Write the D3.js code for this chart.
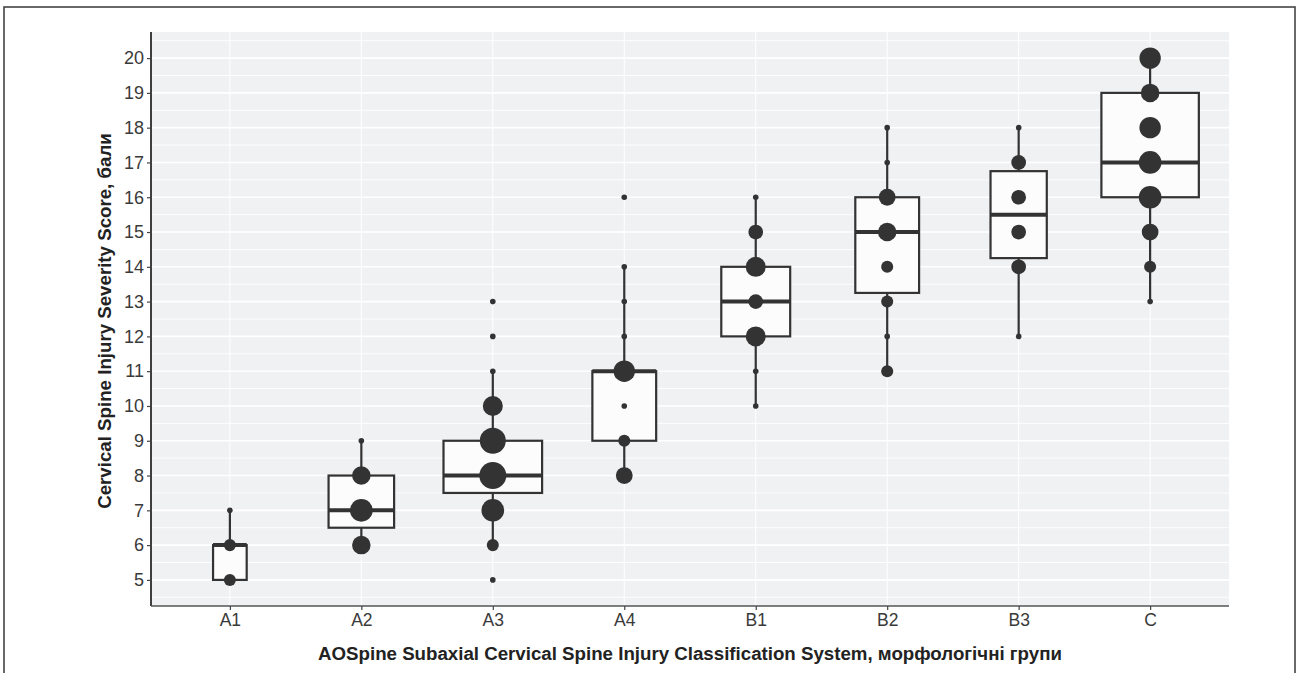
<!DOCTYPE html>
<html>
<head>
<meta charset="utf-8">
<script src="https://cdn.jsdelivr.net/npm/d3@7"></script>
<style>
  body { margin: 0; background: #fff; }
  svg { display: block; font-family: "Liberation Sans", Arial, sans-serif; }
</style>
</head>
<body>
<div id="chart"></div>
<script>
// Size of the picture
var w = 1298;
var h = 673;

// Groups on the x axis
var categories = ["A1", "A2", "A3", "A4", "B1", "B2", "B3", "C"];

// Score / number of patients pairs for every group
var countsA1 = [[5, 2], [6, 2], [7, 1]];
var countsA2 = [[6, 5], [7, 8], [8, 5], [9, 1]];
var countsA3 = [[5, 1], [6, 2], [7, 8], [8, 12], [9, 11], [10, 6], [11, 1], [12, 1], [13, 1]];
var countsA4 = [[8, 4], [9, 2], [10, 1], [11, 7], [12, 1], [13, 1], [14, 1], [16, 1]];
var countsB1 = [[10, 1], [11, 1], [12, 6], [13, 3], [14, 6], [15, 3], [16, 1]];
var countsB2 = [[11, 2], [12, 1], [13, 2], [14, 2], [15, 5], [16, 4], [17, 1], [18, 1]];
var countsB3 = [[12, 1], [14, 3], [15, 3], [16, 3], [17, 3], [18, 1]];
var countsC  = [[13, 1], [14, 2], [15, 4], [16, 8], [17, 8], [18, 7], [19, 5], [20, 7]];

// Y tick labels
var yTicks = [5, 6, 7, 8, 9, 10, 11, 12, 13, 14, 15, 16, 17, 18, 19, 20];

var groupCounts = [countsA1, countsA2, countsA3, countsA4, countsB1, countsB2, countsB3, countsC];

// Panel box
var pLeft = 151, pTop = 32, pRight = 1229, pBottom = 606;
var ink = "#333333";

var svg = d3.select("#chart")
    .append("svg")
    .attr("width", w)
    .attr("height", h);

// outer frame of the figure
svg.append("rect")
    .attr("x", 4).attr("y", 7)
    .attr("width", 1291).attr("height", 680)
    .attr("fill", "none")
    .attr("stroke", "#444")
    .attr("stroke-width", 1.6);

var x = d3.scalePoint()
    .domain(categories)
    .range([pLeft, pRight])
    .padding(0.6);

var y = d3.scaleLinear()
    .domain([4.25, 20.75])
    .range([pBottom, pTop]);

// panel background
svg.append("rect")
    .attr("x", pLeft).attr("y", pTop)
    .attr("width", pRight - pLeft).attr("height", pBottom - pTop)
    .attr("fill", "#f0f1f3");

// minor grid (half steps)
var minor = d3.range(4.5, 21, 1);
svg.append("g").selectAll("line")
    .data(minor)
    .enter()
    .append("line")
    .attr("x1", pLeft).attr("x2", pRight)
    .attr("y1", function(d) { return y(d); })
    .attr("y2", function(d) { return y(d); })
    .attr("stroke", "#ffffff")
    .attr("stroke-width", 0.9);

// major grid
svg.append("g").selectAll("line")
    .data(yTicks)
    .enter()
    .append("line")
    .attr("x1", pLeft).attr("x2", pRight)
    .attr("y1", function(d) { return y(d); })
    .attr("y2", function(d) { return y(d); })
    .attr("stroke", "#ffffff")
    .attr("stroke-width", 1.6);

svg.append("g").selectAll("line")
    .data(categories)
    .enter()
    .append("line")
    .attr("y1", pTop).attr("y2", pBottom)
    .attr("x1", function(d) { return x(d); })
    .attr("x2", function(d) { return x(d); })
    .attr("stroke", "#ffffff")
    .attr("stroke-width", 1);

// expand counts into raw values and work out the box statistics
var stats = groupCounts.map(function(pairs, i) {
    var values = [];
    pairs.forEach(function(p) {
        for (var k = 0; k < p[1]; k++) values.push(p[0]);
    });
    values.sort(d3.ascending);
    var q1 = d3.quantile(values, 0.25);
    var med = d3.quantile(values, 0.5);
    var q3 = d3.quantile(values, 0.75);
    var iqr = q3 - q1;
    var inside = values.filter(function(v) { return v >= q1 - 1.5 * iqr && v <= q3 + 1.5 * iqr; });
    return {
        cat: categories[i],
        n: values.length,
        q1: q1, med: med, q3: q3,
        lo: d3.min(inside), hi: d3.max(inside),
        out: values.filter(function(v) { return v < q1 - 1.5 * iqr || v > q3 + 1.5 * iqr; })
    };
});

// varwidth boxes: width follows sqrt(n)
var maxN = d3.max(stats, function(d) { return d.n; });
var boxW = d3.scaleLinear()
    .domain([0, Math.sqrt(maxN)])
    .range([0, x.step() * 0.75]);

var boxes = svg.append("g").selectAll("g")
    .data(stats)
    .enter()
    .append("g");

// whiskers
boxes.append("line")
    .attr("x1", function(d) { return x(d.cat); })
    .attr("x2", function(d) { return x(d.cat); })
    .attr("y1", function(d) { return y(d.q3); })
    .attr("y2", function(d) { return y(d.hi); })
    .attr("stroke", ink).attr("stroke-width", 2.2);
boxes.append("line")
    .attr("x1", function(d) { return x(d.cat); })
    .attr("x2", function(d) { return x(d.cat); })
    .attr("y1", function(d) { return y(d.q1); })
    .attr("y2", function(d) { return y(d.lo); })
    .attr("stroke", ink).attr("stroke-width", 2.2);

boxes.append("rect")
    .attr("x", function(d) { return x(d.cat) - boxW(Math.sqrt(d.n)) / 2; })
    .attr("width", function(d) { return boxW(Math.sqrt(d.n)); })
    .attr("y", function(d) { return y(d.q3); })
    .attr("height", function(d) { return y(d.q1) - y(d.q3); })
    .attr("fill", "#fcfcfc")
    .attr("stroke", ink)
    .attr("stroke-width", 2.2);

boxes.append("line")
    .attr("x1", function(d) { return x(d.cat) - boxW(Math.sqrt(d.n)) / 2; })
    .attr("x2", function(d) { return x(d.cat) + boxW(Math.sqrt(d.n)) / 2; })
    .attr("y1", function(d) { return y(d.med); })
    .attr("y2", function(d) { return y(d.med); })
    .attr("stroke", ink)
    .attr("stroke-width", 4);

// boxplot outliers
boxes.selectAll("circle")
    .data(function(d) { return d.out.map(function(v) { return { cat: d.cat, v: v }; }); })
    .enter()
    .append("circle")
    .attr("cx", function(d) { return x(d.cat); })
    .attr("cy", function(d) { return y(d.v); })
    .attr("r", 2.2)
    .attr("fill", ink);

// count dots: area grows with number of patients
var points = [];
groupCounts.forEach(function(pairs, i) {
    pairs.forEach(function(p) {
        points.push({ cat: categories[i], score: p[0], n: p[1] });
    });
});
var maxCount = d3.max(points, function(d) { return d.n; });
var size = d3.scaleLinear().domain([0, 1]).range([2.8, 13.5]);

svg.append("g").selectAll("circle")
    .data(points)
    .enter()
    .append("circle")
    .attr("cx", function(d) { return x(d.cat); })
    .attr("cy", function(d) { return y(d.score); })
    .attr("r", function(d) { return size(Math.sqrt((d.n - 1) / (maxCount - 1))); })
    .attr("fill", ink);

// axes
var yAxis = svg.append("g")
    .attr("transform", "translate(" + pLeft + ",0)")
    .call(d3.axisLeft(y).tickValues(yTicks).tickSize(4).tickPadding(3).tickSizeOuter(0));
yAxis.select(".domain").attr("stroke", "#111").attr("stroke-width", 1.6)
    .attr("d", "M0," + pTop + "V" + pBottom);
yAxis.selectAll(".tick line").attr("stroke", "#444").attr("stroke-width", 1.2);
yAxis.selectAll(".tick text")
    .style("font-size", "18px")
    .attr("fill", "#3a3a3a")
    .attr("font-family", "Liberation Sans, Arial, sans-serif");

var xAxis = svg.append("g")
    .attr("transform", "translate(0," + pBottom + ")")
    .call(d3.axisBottom(x).tickSize(4).tickPadding(4).tickSizeOuter(0));
xAxis.select(".domain").attr("stroke", "#555").attr("stroke-width", 1.6)
    .attr("d", "M" + pLeft + ",0H" + pRight);
xAxis.selectAll(".tick line").attr("stroke", "#444").attr("stroke-width", 1.2);
xAxis.selectAll(".tick text")
    .style("font-size", "17.5px")
    .attr("fill", "#3a3a3a")
    .attr("font-family", "Liberation Sans, Arial, sans-serif");

// axis titles
svg.append("text")
    .attr("x", (pLeft + pRight) / 2)
    .attr("y", 660)
    .attr("text-anchor", "middle")
    .style("font-size", "18.7px")
    .style("font-weight", "bold")
    .attr("fill", "#222")
    .text("AOSpine Subaxial Cervical Spine Injury Classification System, морфологічні групи");

svg.append("text")
    .attr("transform", "translate(111," + ((pTop + pBottom) / 2 + 2) + ") rotate(-90)")
    .attr("text-anchor", "middle")
    .style("font-size", "18.7px")
    .style("font-weight", "bold")
    .attr("fill", "#222")
    .text("Cervical Spine Injury Severity Score, бали");
</script>
</body>
</html>
